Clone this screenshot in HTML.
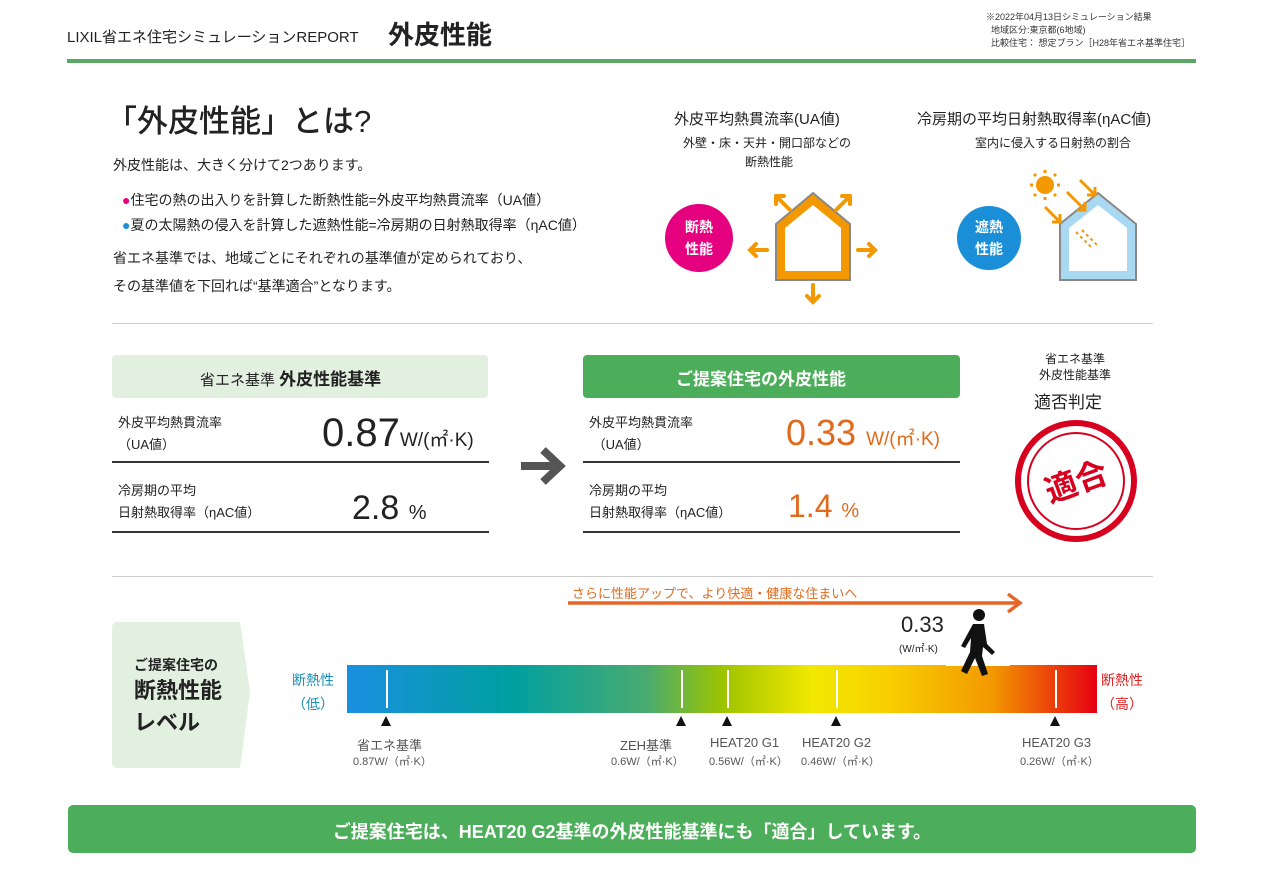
<!DOCTYPE html>
<html><head><meta charset="utf-8">
<style>
*{margin:0;padding:0;box-sizing:border-box}
body{width:1263px;height:891px;background:#fff;position:relative;overflow:hidden;font-family:"Liberation Sans","Noto Sans CJK JP",sans-serif;color:#222}
.a{position:absolute;white-space:nowrap}
.hr{position:absolute;height:1px;background:#ccc}
.bl{position:absolute;height:1.5px;background:#333}
svg{overflow:visible}
</style></head><body>
<div class="a" style="left:67px;top:26px;font-size:15px">LIXIL省エネ住宅シミュレーションREPORT</div>
<div class="a" style="left:388px;top:15px;font-size:26px;font-weight:bold">外皮性能</div>
<div class="a" style="left:986px;top:11px;font-size:9px;line-height:13px;color:#333">※2022年04月13日シミュレーション結果<br>&nbsp;&nbsp;地域区分:東京都(6地域)<br>&nbsp;&nbsp;比較住宅： 想定プラン［H28年省エネ基準住宅］</div>
<div style="position:absolute;left:67px;top:59px;width:1129px;height:4px;background:#5aa864"></div>

<div class="a" style="left:106px;top:96px;font-size:31px;font-weight:500">「外皮性能」とは?</div>
<div class="a" style="left:113px;top:155px;font-size:14px">外皮性能は、大きく分けて2つあります。</div>
<div class="a" style="left:122px;top:190px;font-size:14px"><span style="color:#e4007f">●</span>住宅の熱の出入りを計算した断熱性能=外皮平均熱貫流率（UA値）</div>
<div class="a" style="left:122px;top:215px;font-size:14px"><span style="color:#1a8fd8">●</span>夏の太陽熱の侵入を計算した遮熱性能=冷房期の日射熱取得率（ηAC値）</div>
<div class="a" style="left:113px;top:248px;font-size:14px">省エネ基準では、地域ごとにそれぞれの基準値が定められており、</div>
<div class="a" style="left:113px;top:276px;font-size:14px">その基準値を下回れば“基準適合”となります。</div>

<div class="a" style="left:674px;top:108px;font-size:15px">外皮平均熱貫流率(UA値)</div>
<div class="a" style="left:683px;top:134px;font-size:12px">外壁・床・天井・開口部などの</div>
<div class="a" style="left:745px;top:153px;font-size:12px">断熱性能</div>
<div class="a" style="left:917px;top:108px;font-size:15px">冷房期の平均日射熱取得率(ηAC値)</div>
<div class="a" style="left:975px;top:134px;font-size:12px">室内に侵入する日射熱の割合</div>

<svg style="position:absolute;left:640px;top:180px" width="560" height="130">
 <circle cx="59" cy="58" r="34" fill="#e4007f"/>
 <text x="59" y="52" font-size="14" fill="#fff" text-anchor="middle" font-weight="bold" font-family="Noto Sans CJK JP">断熱</text>
 <text x="59" y="74" font-size="14" fill="#fff" text-anchor="middle" font-weight="bold" font-family="Noto Sans CJK JP">性能</text>
 <path d="M136 44 L173 13 L210 44 L210 100 L136 100 Z" fill="#f39800" stroke="#888" stroke-width="2"/>
 <path d="M145 48 L173 25 L201 48 L201 91 L145 91 Z" fill="#fff"/>
 <g stroke="#f39800" stroke-width="4" fill="none" stroke-linecap="round">
  <path d="M150 30 L136 16 M136 16 L136 24 M136 16 L144 16"/>
  <path d="M196 30 L210 16 M210 16 L210 24 M210 16 L202 16"/>
  <path d="M127 70 L110 70 M116 64 L110 70 L116 76"/>
  <path d="M218 70 L235 70 M229 64 L235 70 L229 76"/>
  <path d="M173 105 L173 122 M167 116 L173 122 L179 116"/>
 </g>
 <circle cx="349" cy="58" r="32" fill="#1a8fd8"/>
 <text x="349" y="52" font-size="14" fill="#fff" text-anchor="middle" font-weight="bold" font-family="Noto Sans CJK JP">遮熱</text>
 <text x="349" y="74" font-size="14" fill="#fff" text-anchor="middle" font-weight="bold" font-family="Noto Sans CJK JP">性能</text>
 <path d="M420 44 L458 13 L496 44 L496 100 L420 100 Z" fill="#a9d8f2" stroke="#888" stroke-width="2"/>
 <path d="M429 48 L458 25 L487 48 L487 91 L429 91 Z" fill="#fff"/>
 <circle cx="405" cy="5" r="9" fill="#f39800"/>
 <g stroke="#f39800" stroke-width="3" fill="none">
  <path d="M405 -10 V-7 M405 17 V20 M390 5 H393 M417 5 H420 M394 -6 L396 -4 M414 14 L416 16 M394 16 L396 14 M414 -4 L416 -6"/>
  <path d="M427 12 L445 30 M445 22 V30 H437"/>
  <path d="M405 27 L420 42 M420 34 V42 H412"/>
  <path d="M440 0 L455 15 M455 7 V15 H447"/>
 </g>
 <g stroke="#f39800" stroke-width="2" fill="none" stroke-dasharray="3 3"><path d="M436 52 L452 68 M442 50 L458 66"/></g>
</svg>

<div class="hr" style="left:112px;top:323px;width:1041px"></div>

<div style="position:absolute;left:112px;top:355px;width:376px;height:43px;background:#e2f0e0;border-radius:4px"></div>
<div class="a" style="left:200px;top:365px;font-size:15px">省エネ基準 <span style="font-size:17px;font-weight:bold">外皮性能基準</span></div>
<div class="a" style="left:118px;top:412px;font-size:13px;line-height:22px">外皮平均熱貫流率<br>（UA値）</div>
<div class="a" style="left:322px;top:409px;font-size:40px;line-height:48px">0.87<span style="font-size:19px">W/(㎡·K)</span></div>
<div class="bl" style="left:112px;top:461px;width:377px"></div>
<div class="a" style="left:118px;top:480px;font-size:13px;line-height:22px">冷房期の平均<br>日射熱取得率（ηAC値）</div>
<div class="a" style="left:352px;top:484px;font-size:34px;line-height:48px">2.8 <span style="font-size:20px">%</span></div>
<div class="bl" style="left:112px;top:531px;width:377px"></div>

<svg style="position:absolute;left:515px;top:444px" width="56" height="44"><path d="M6 22 H44 M28 6 L45 22 L28 38" stroke="#555" stroke-width="8" fill="none" stroke-linejoin="miter"/></svg>

<div style="position:absolute;left:583px;top:355px;width:377px;height:43px;background:#4cae5a;border-radius:4px"></div>
<div class="a" style="left:676px;top:365px;font-size:17px;font-weight:bold;color:#fff">ご提案住宅の外皮性能</div>
<div class="a" style="left:589px;top:412px;font-size:13px;line-height:22px">外皮平均熱貫流率<br>&nbsp;（UA値）</div>
<div class="a" style="left:786px;top:409px;font-size:36px;line-height:48px;color:#e06a1b">0.33 <span style="font-size:19px">W/(㎡·K)</span></div>
<div class="bl" style="left:583px;top:461px;width:377px"></div>
<div class="a" style="left:589px;top:480px;font-size:13px;line-height:22px">冷房期の平均<br>日射熱取得率（ηAC値）</div>
<div class="a" style="left:788px;top:482px;font-size:32px;line-height:48px;color:#e06a1b">1.4 <span style="font-size:20px">%</span></div>
<div class="bl" style="left:583px;top:531px;width:377px"></div>

<div class="a" style="left:1039px;top:351px;font-size:12px;line-height:16px;text-align:center">省エネ基準<br>外皮性能基準</div>
<div class="a" style="left:1034px;top:388px;font-size:17px">適否判定</div>
<svg style="position:absolute;left:1013px;top:418px" width="126" height="126">
 <circle cx="63" cy="63" r="58" fill="none" stroke="#d8001f" stroke-width="6"/>
 <circle cx="63" cy="63" r="48" fill="none" stroke="#d8001f" stroke-width="2"/>
 <text x="63" y="75" font-size="32" font-weight="bold" fill="#d8001f" text-anchor="middle" transform="rotate(-20 63 63)" font-family="Noto Sans CJK JP">適合</text>
</svg>

<div class="hr" style="left:112px;top:576px;width:1041px"></div>

<div class="a" style="left:572px;top:583px;font-size:13px;color:#e06a1b">さらに性能アップで、より快適・健康な住まいへ</div>
<svg style="position:absolute;left:560px;top:590px" width="470" height="28"><path d="M8 13 H458 M448 4 L460 13 L448 22" stroke="#e8652a" stroke-width="3.5" fill="none"/></svg>

<svg style="position:absolute;left:112px;top:622px" width="160" height="146"><path d="M6 0 H128 L138 70 L128 146 H6 Q0 146 0 140 V6 Q0 0 6 0Z" fill="#e2f0e0"/></svg>
<div class="a" style="left:134px;top:655px;font-size:14px;font-weight:bold">ご提案住宅の</div>
<div class="a" style="left:134px;top:675px;font-size:22px;font-weight:bold;line-height:32px">断熱性能<br>レベル</div>

<div class="a" style="left:292px;top:668px;font-size:14px;color:#1a8fb8;text-align:center;line-height:24px">断熱性<br>（低）</div>
<div class="a" style="left:1101px;top:668px;font-size:14px;color:#e02020;text-align:center;line-height:24px">断熱性<br>（高）</div>
<div style="position:absolute;left:347px;top:665px;width:750px;height:48px;background:linear-gradient(90deg,#1a8fe0 0%,#00a0a0 22%,#4aab70 40%,#9cc400 50%,#f2e800 62%,#f8d000 72%,#f39800 86%,#e60012 100%)"></div>
<div style="position:absolute;left:946px;top:650px;width:64px;height:16px;background:#fff"></div>
<div style="position:absolute;left:386px;top:670px;width:1.5px;height:38px;background:#fff"></div>
<div style="position:absolute;left:681px;top:670px;width:1.5px;height:38px;background:#fff"></div>
<div style="position:absolute;left:727px;top:670px;width:1.5px;height:38px;background:#fff"></div>
<div style="position:absolute;left:836px;top:670px;width:1.5px;height:38px;background:#fff"></div>
<div style="position:absolute;left:1055px;top:670px;width:1.5px;height:38px;background:#fff"></div>
<svg style="position:absolute;left:0;top:714px" width="1263" height="14">
 <path d="M381 12 L386 2 L391 12Z M676 12 L681 2 L686 12Z M722 12 L727 2 L732 12Z M831 12 L836 2 L841 12Z M1050 12 L1055 2 L1060 12Z" fill="#111"/>
</svg>
<div class="a" style="left:357px;top:735px;font-size:13px;color:#555">省エネ基準</div>
<div class="a" style="left:353px;top:753px;font-size:11px;color:#555">0.87W/（㎡·K）</div>
<div class="a" style="left:620px;top:735px;font-size:13px;color:#555">ZEH基準</div>
<div class="a" style="left:611px;top:753px;font-size:11px;color:#555">0.6W/（㎡·K）</div>
<div class="a" style="left:710px;top:735px;font-size:13px;color:#555">HEAT20 G1</div>
<div class="a" style="left:709px;top:753px;font-size:11px;color:#555">0.56W/（㎡·K）</div>
<div class="a" style="left:802px;top:735px;font-size:13px;color:#555">HEAT20 G2</div>
<div class="a" style="left:801px;top:753px;font-size:11px;color:#555">0.46W/（㎡·K）</div>
<div class="a" style="left:1022px;top:735px;font-size:13px;color:#555">HEAT20 G3</div>
<div class="a" style="left:1020px;top:753px;font-size:11px;color:#555">0.26W/（㎡·K）</div>

<div class="a" style="left:901px;top:612px;font-size:22px">0.33</div>
<div class="a" style="left:899px;top:640px;font-size:10px">(W/㎡·K)</div>
<svg style="position:absolute;left:955px;top:608px" width="45" height="70">
 <circle cx="24" cy="7" r="6" fill="#111"/>
 <path d="M18 16 H29 L32 36 L40 44 L37 47 L28 39 L27 48 L33 66 L27 68 L20 50 L12 66 L6 63 L15 44 L16 30 L10 40 L6 38 Z" fill="#111"/>
</svg>

<div style="position:absolute;left:68px;top:805px;width:1128px;height:48px;background:#4cae5a;border-radius:5px"></div>
<div class="a" style="left:68px;top:818px;width:1128px;text-align:center;font-size:18px;font-weight:bold;color:#fff">ご提案住宅は、HEAT20 G2基準の外皮性能基準にも「適合」しています。</div>
</body></html>
